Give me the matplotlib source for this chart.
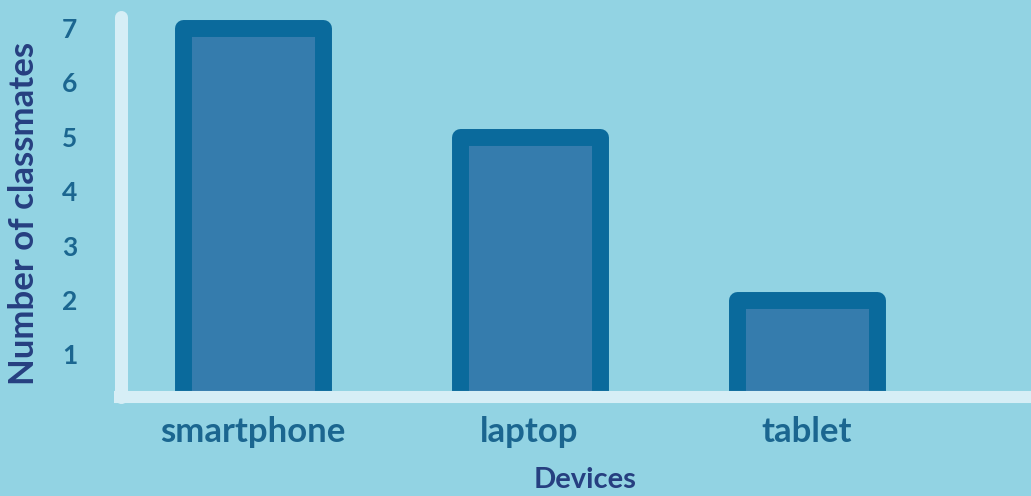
"""
Devices bar chart.
"""

import matplotlib
matplotlib.use("Agg")
import matplotlib.pyplot as plt

devices = ["smartphone", "laptop", "tablet"]
classmates = [7, 5, 2]
y_ticks = [1, 2, 3, 4, 5, 6, 7]

BG = "#92d3e3"
EDGE = "#0a6a9c"
FILL = "#357cad"
AXIS = "#d6eef6"
TICK_COL = "#1b6690"
LABEL_COL = "#263f80"

plt.rcParams["font.family"] = ["Lato", "DejaVu Sans"]
plt.rcParams["font.weight"] = "bold"

W, H = 1031, 496
fig = plt.figure(figsize=(W / 100, H / 100), dpi=100, facecolor=BG)
# axes box in pixel terms: left 114, bottom edge at 403 from top
ax = fig.add_axes([114 / W, (H - 403) / H, (W - 114) / W, 403 / H])
ax.set_facecolor(BG)

# 54.4 px per unit, value 0 sits at y=408.8 px
ax.set_xlim(-0.5, -0.5 + 917 / 277)
ax.set_ylim((408.8 - 403) / 54.4, 7 + 28 / 54.4)

# bars start below the axis line so their bottom edge is hidden
base = -0.5
x = list(range(len(devices)))
ax.bar(x, [v - base for v in classmates], width=140 / 277, bottom=base,
       color=FILL, edgecolor=EDGE, linewidth=12.2, joinstyle="round",
       zorder=2)

# axis lines
y_base = (408.8 - 397) / 54.4
ax.plot([-0.5, 3.0], [y_base, y_base], color=AXIS, lw=8.7,
        solid_capstyle="butt", zorder=3, clip_on=False)
x_vert = -0.5 + 6.5 / 277
ax.plot([x_vert, x_vert], [y_base, 7 + 11 / 54.4], color=AXIS, lw=9.4,
        solid_capstyle="round", zorder=3, clip_on=False)

for s in ax.spines.values():
    s.set_visible(False)

ax.set_xticks(x)
ax.set_xticklabels(devices, fontsize=25, color=TICK_COL, fontweight="bold")
ax.set_yticks(y_ticks)
ax.set_yticklabels([str(t) for t in y_ticks], fontsize=19, color=TICK_COL,
                   fontweight="bold", ha="center")
ax.tick_params(axis="x", length=0, pad=9)
ax.tick_params(axis="y", length=0, pad=32)

fig.text(24 / W, 1 - 213 / H, "Number of classmates", rotation=90,
         ha="center", va="center", fontsize=25, color=LABEL_COL,
         fontweight="bold")
fig.text(585 / W, 1 - 480 / H, "Devices", ha="center", va="center",
         fontsize=21, color=LABEL_COL, fontweight="bold")

fig.savefig("out.png", dpi=100, facecolor=BG)
